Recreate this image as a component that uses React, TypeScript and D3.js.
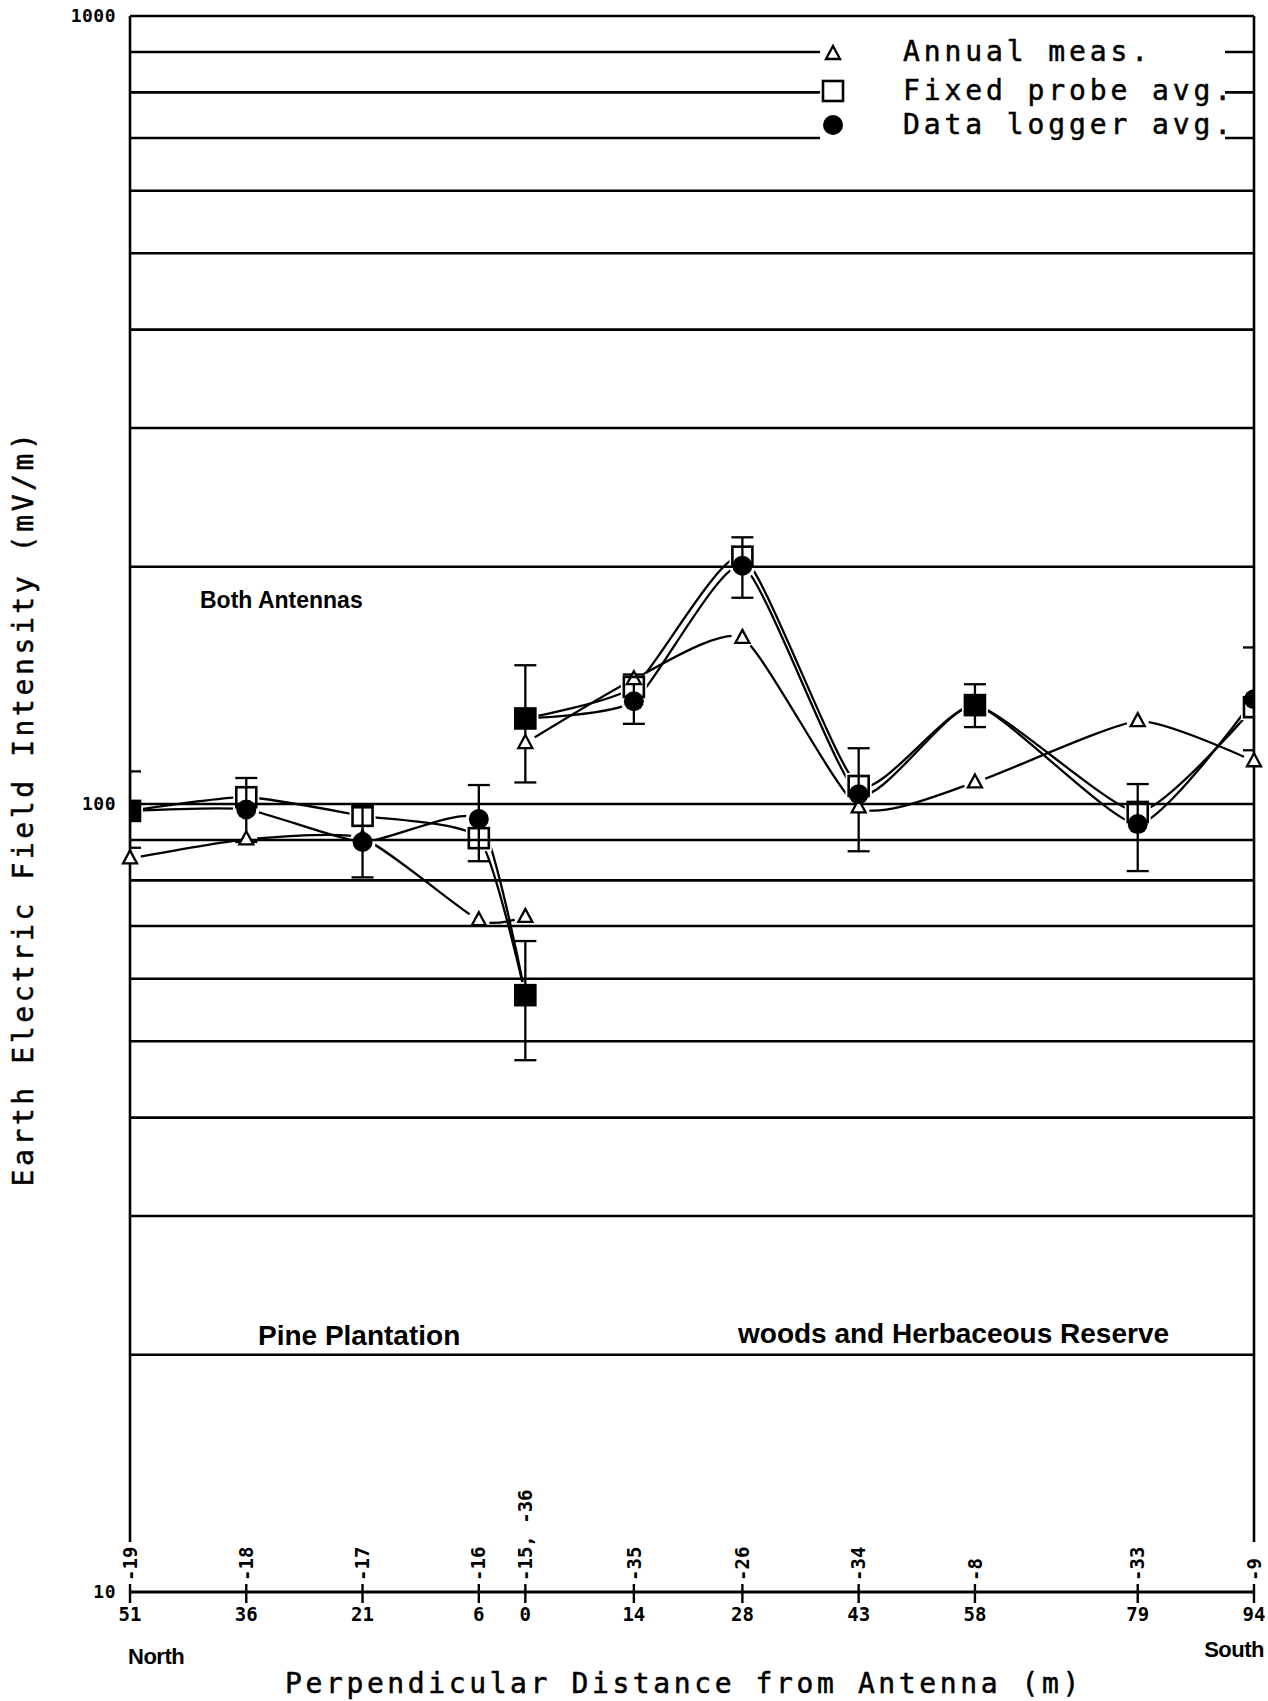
import React from 'react';
import * as d3 from 'd3';

// station positions (m, north negative) and their labels
const distances = [-51, -36, -21, -6, 0, 14, 28, 43, 58, 79, 94];
const distanceLabels = ['51', '36', '21', '6', '0', '14', '28', '43', '58', '79', '94'];
const stationLabels = ['-19', '-18', '-17', '-16', '-15, -36', '-35', '-26', '-34', '-8', '-33', '-9'];

// north transect (stations 19..15)
const northDist = [-51, -36, -21, -6, 0];
const annualNorth = [85.3, 90.2, 90.5, 71.2, 71.9];
const fixedNorth = [98, 102, 96.6, 90.5, 57.2];
const loggerNorth = [98, 98.4, 89.5, 95.7, 57.2];
const errLowNorth = [88, 89.5, 80.7, 84.6, 47.3];
const errHighNorth = [110, 107.9, 99, 105.7, 67];

// south transect (stations 36..9)
const southDist = [0, 14, 28, 43, 58, 79, 94];
const annualSouth = [119.5, 144, 162.5, 99, 106.5, 127.4, 113.3];
const fixedSouth = [128.4, 140.8, 206, 105.4, 133.5, 97.7, 132.7];
const loggerSouth = [128.4, 135, 200.6, 102.9, 133.5, 94.3, 135.8];
const errLowSouth = [106.5, 126.4, 182.7, 87.1, 125.2, 82.2, 117];
const errHighSouth = [150, 146, 218, 117.7, 141.9, 106, 158];

const gridValues = [20, 30, 40, 50, 60, 70, 80, 90, 100, 200, 300, 400, 500, 600, 700, 800, 900, 1000];
const yTicks = [10, 100, 1000];
const legendLabels = ['Annual meas.', 'Fixed probe avg.', 'Data logger avg.'];

const W = 1268;
const H = 1701;
const left = 130, right = 1254, top = 16, bottom = 1592;

const mono = '"DejaVu Sans Mono", monospace';
const sans = '"Liberation Sans", Arial, sans-serif';

const x = d3.scaleLinear().domain([-51, 94]).range([left, right]);
const y = d3.scaleLog().domain([10, 1000]).range([bottom, top]);

const line = d3
  .line<[number, number]>()
  .x((d) => x(d[0]))
  .y((d) => y(d[1]))
  .curve(d3.curveCardinal.tension(0.45));

const zip = (xs: number[], ys: number[]) => xs.map((v, i) => [v, ys[i]] as [number, number]);

const triPath = (cx: number, cy: number) => `M${cx},${cy - 8}L${cx + 7},${cy + 5}L${cx - 7},${cy + 5}Z`;

const Triangle = ({ cx, cy }: { cx: number; cy: number }) => (
  <path d={triPath(cx, cy)} fill="white" stroke="black" strokeWidth={2.3} />
);
const Square = ({ cx, cy, filled }: { cx: number; cy: number; filled?: boolean }) => (
  <rect
    x={cx - 10}
    y={cy - 10}
    width={20}
    height={20}
    fill={filled ? 'black' : 'none'}
    stroke="black"
    strokeWidth={2.6}
  />
);
const Dot = ({ cx, cy }: { cx: number; cy: number }) => <circle cx={cx} cy={cy} r={10} fill="black" />;

const monoText = { fontFamily: mono, stroke: 'black', strokeWidth: 0.5 };

export default function App() {
  const series = [
    zip(northDist, annualNorth),
    zip(northDist, fixedNorth),
    zip(northDist, loggerNorth),
    zip(southDist, annualSouth),
    zip(southDist, fixedSouth),
    zip(southDist, loggerSouth),
  ];
  const errs = [
    ...northDist.map((d, i) => ({ d, lo: errLowNorth[i], hi: errHighNorth[i] })),
    ...southDist.map((d, i) => ({ d, lo: errLowSouth[i], hi: errHighSouth[i] })),
  ];
  const tris = [...zip(northDist, annualNorth), ...zip(southDist, annualSouth)];
  const dots = [...zip(northDist, loggerNorth), ...zip(southDist, loggerSouth)];
  const sqs = [...zip(northDist, fixedNorth), ...zip(southDist, fixedSouth)];
  const coincident = [...fixedNorth.map((v, i) => v === loggerNorth[i]), ...fixedSouth.map((v, i) => v === loggerSouth[i])];

  return (
    <svg width={W} height={H} style={{ position: 'absolute', left: 0, top: 0, background: 'white' }}>
      <defs>
        <clipPath id="plot">
          <rect x={left} y={top} width={right - left} height={bottom - top} />
        </clipPath>
        {/* lines stop short of the symbols, as on the plotter */}
        <mask id="gaps" maskUnits="userSpaceOnUse" x={0} y={0} width={W} height={H}>
          <rect width={W} height={H} fill="white" />
          {tris.map(([d, v], i) => (
            <circle key={'mt' + i} cx={x(d)} cy={y(v)} r={11} fill="black" />
          ))}
          {dots.map(([d, v], i) => (
            <circle key={'mc' + i} cx={x(d)} cy={y(v)} r={13} fill="black" />
          ))}
          {sqs.map(([d, v], i) => (
            <rect key={'ms' + i} x={x(d) - 13} y={y(v) - 13} width={26} height={26} fill="black" />
          ))}
        </mask>
      </defs>
      <rect width={W} height={H} fill="white" />

      {/* gridlines */}
      {gridValues.map((v) => (
        <line key={v} x1={left} x2={right} y1={y(v)} y2={y(v)} stroke="black" strokeWidth={2.6} />
      ))}

      {/* legend background breaks the gridlines */}
      <rect x={820} y={35} width={405} height={112} fill="white" />

      {/* frame */}
      <line x1={left} x2={left} y1={top} y2={bottom - 50} stroke="black" strokeWidth={2.6} />
      <line x1={right} x2={right} y1={top} y2={bottom - 50} stroke="black" strokeWidth={2.6} />
      <line x1={left} x2={right} y1={bottom} y2={bottom} stroke="black" strokeWidth={2.8} />

      {/* y tick labels */}
      {yTicks.map((t) => (
        <text
          key={t}
          x={116}
          y={y(t)}
          dy="0.35em"
          textAnchor="end"
          fontFamily={mono}
          fontWeight="bold"
          fontSize={18}
          letterSpacing={0.5}
        >
          {t}
        </text>
      ))}

      {/* x ticks and labels */}
      {distances.map((d, i) => (
        <g key={d}>
          <line x1={x(d)} x2={x(d)} y1={bottom - 8} y2={bottom + 11} stroke="black" strokeWidth={2.4} />
          <text x={x(d)} y={1621} textAnchor="middle" fontFamily={mono} fontWeight="bold" fontSize={19}>
            {distanceLabels[i]}
          </text>
          <text
            transform={`translate(${x(d)},${1581}) rotate(-90)`}
            dy="0.35em"
            fontFamily={mono}
            fontWeight="bold"
            fontSize={19}
          >
            {stationLabels[i]}
          </text>
        </g>
      ))}

      {/* data lines */}
      <g mask="url(#gaps)">
        {series.map((s, i) => (
          <path key={i} d={line(s) || ''} fill="none" stroke="black" strokeWidth={2.3} />
        ))}
      </g>

      {/* error bars, squares and dots are clipped at the frame */}
      <g clipPath="url(#plot)">
        {errs.map((e, i) => (
          <g key={i} stroke="black" strokeWidth={2.3}>
            <line x1={x(e.d)} x2={x(e.d)} y1={y(e.lo)} y2={y(e.hi)} />
            <line x1={x(e.d) - 11} x2={x(e.d) + 11} y1={y(e.lo)} y2={y(e.lo)} />
            <line x1={x(e.d) - 11} x2={x(e.d) + 11} y1={y(e.hi)} y2={y(e.hi)} />
          </g>
        ))}
      </g>
      {tris.map(([d, v], i) => (
        <Triangle key={'t' + i} cx={x(d)} cy={y(v)} />
      ))}
      <g clipPath="url(#plot)">
        {dots.map(([d, v], i) => (
          <Dot key={'c' + i} cx={x(d)} cy={y(v)} />
        ))}
        {sqs.map(([d, v], i) => (
          <Square key={'s' + i} cx={x(d)} cy={y(v)} filled={coincident[i]} />
        ))}
      </g>

      {/* legend */}
      <Triangle cx={833} cy={54} />
      <Square cx={833} cy={91} />
      <Dot cx={833} cy={125} />
      {legendLabels.map((l, i) => (
        <text key={l} x={903} y={[61, 100, 134][i]} {...monoText} fontSize={28} letterSpacing={3.9}>
          {l}
        </text>
      ))}

      {/* annotations */}
      <text x={200} y={608} fontFamily={sans} fontWeight="bold" fontSize={23}>
        Both Antennas
      </text>
      <text x={258} y={1345} fontFamily={sans} fontWeight="bold" fontSize={28}>
        Pine Plantation
      </text>
      <text x={738} y={1343} fontFamily={sans} fontWeight="bold" fontSize={28}>
        woods and Herbaceous Reserve
      </text>
      <text x={128} y={1664} fontFamily={sans} fontWeight="bold" fontSize={22} letterSpacing={-0.5}>
        North
      </text>
      <text
        x={1264}
        y={1657}
        textAnchor="end"
        fontFamily={sans}
        fontWeight="bold"
        fontSize={22}
        letterSpacing={-0.5}
      >
        South
      </text>

      {/* axis titles */}
      <text x={684} y={1693} textAnchor="middle" {...monoText} fontSize={28} letterSpacing={3.6}>
        Perpendicular Distance from Antenna (m)
      </text>
      <text
        transform="translate(33,808) rotate(-90)"
        textAnchor="middle"
        {...monoText}
        fontSize={28}
        letterSpacing={3.6}
      >
        Earth Electric Field Intensity (mV/m)
      </text>
    </svg>
  );
}
